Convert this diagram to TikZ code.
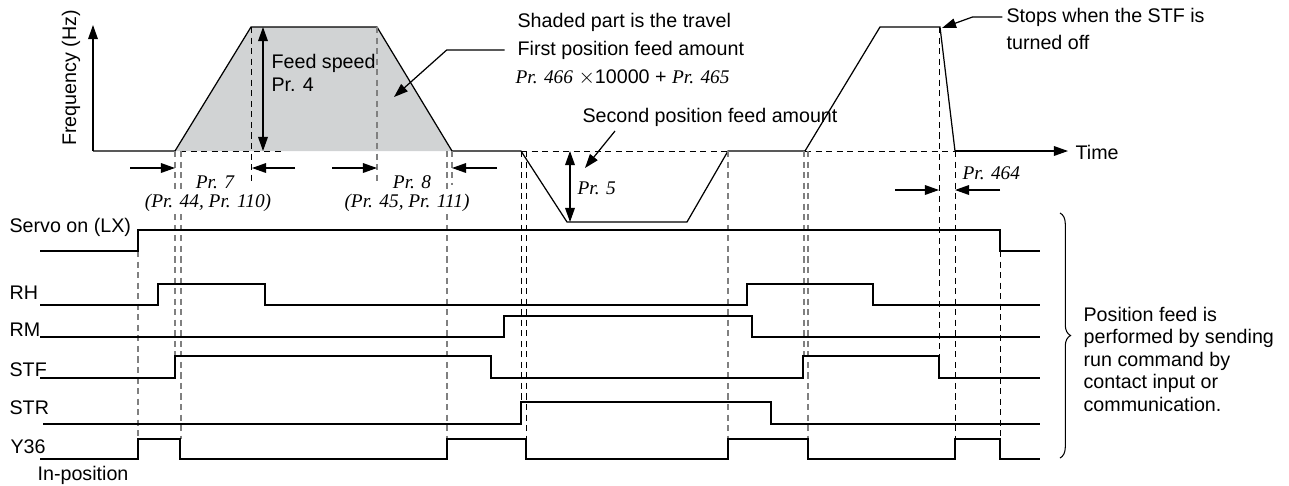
\documentclass[tikz,border=0pt]{standalone}
\usepackage{fontspec}
\setmainfont{Liberation Sans}
\newfontfamily\prserif{Liberation Serif}
\usetikzlibrary{arrows.meta,decorations.pathreplacing}
\definecolor{travelgray}{RGB}{209,211,212}
\newcommand{\pr}[1]{{\fontsize{11}{12}\prserif\itshape #1}}

\begin{document}
\begin{tikzpicture}[x=0.02cm, y=-0.02cm, line width=0.7pt,
    >={Triangle[length=8pt,width=5.5pt]},
    lbl/.style={font=\fontsize{11.2}{12.8}\selectfont, inner sep=0pt},
    prlbl/.style={font=\fontsize{11}{12}\prserif\itshape, inner sep=0pt},
    guide/.style={black!50, line width=0.6pt, dash pattern=on 3.5pt off 2.5pt},
    guidek/.style={black, line width=0.55pt, dash pattern=on 3.5pt off 2.5pt},
    wave/.style={black, line width=0.7pt}]
    \useasboundingbox (0,0) rectangle (1289,485);

    % --- 1. Frequency profile (shaded travel) ---
    \fill[travelgray] (175,151) -- (251,27) -- (377,27) -- (452,151) -- cycle;
    \coordinate (orig) at (93,151);
    \draw[->] (orig) -- (93,25);
    \node[lbl, rotate=90] (freq) at (71,78) {Frequency (Hz)};
    \draw (orig) -- (175,151) -- (251,27) -- (377,27) -- (452,151) -- (521,151)
        -- (567,222) -- (687,222) -- (728,151) -- (805,151)
        -- (880,27) -- (940,27) -- (955,151);
    \draw[->] (955,151) -- (1068,151);
    \node[lbl, anchor=west] (time) at (1075,152) {Time};
    % zero line where the frequency leaves it
    \draw[guidek] (180,151) -- (283,151);
    \draw[guidek] (521,151) -- (728,151);
    \draw[guidek] (805,151) -- (955,151);

    % Feed speed
    \draw[<->] (263,27) -- (263,151);
    \node[lbl, anchor=west] (feed) at (271,63) {Feed speed};
    \node[lbl, anchor=west] (feedpr) at (271,85) {Pr. 4};

    % Second position feed amount
    \draw[<->] (570,151) -- (570,222);
    \node[prlbl, anchor=west] (pr5) at (577,188) {Pr. 5};

    % --- 2. Timing guides ---
    \foreach \x/\ya/\yb in {138/251/439, 175/151/378, 181/151/439, 377/27/185,
                             447/151/439, 452/151/185, 728/151/439, 804/151/356, 808/151/439}
        \draw[guide] (\x,\ya) -- (\x,\yb);
    \foreach \x/\ya/\yb in {251/27/185, 521/151/402, 526/151/439,
                             939/27/356, 955/151/439, 1000/251/439}
        \draw[guidek] (\x,\ya) -- (\x,\yb);

    % span arrows
    \foreach \xa/\xb/\y in {175/130/168, 252/295/168, 377/332/168, 452/497/168,
                            939/895/190, 955/1000/190}
        \draw[->] (\xb,\y) -- (\xa,\y);
    \node[prlbl] (pr7) at (215,182) {Pr. 7};
    \node[prlbl, fill=white, inner sep=1pt] (pr7b) at (208,203) {(Pr. 44, Pr. 110)};
    \node[prlbl] (pr8) at (412,182) {Pr. 8};
    \node[prlbl, fill=white, inner sep=1pt] (pr8b) at (407,203) {(Pr. 45, Pr. 111)};
    \node[prlbl, anchor=west] (pr464) at (962,173) {Pr. 464};

    % --- 3. Signals ---
    \draw[wave] (40,251) -| (138,230) -| (1000,251) -- (1040,251);
    \draw[line width=1.4pt] (747,230) -- (873,230);
    \draw[wave] (40,305) -| (158,284) -| (265,305) -| (747,284) -| (873,305) -- (1040,305);
    \draw[wave] (40,337) -| (504,316) -| (752,337) -- (1040,337);
    \draw[wave] (40,378) -| (175,356) -| (491,378) -| (803,356) -| (939,378) -- (1040,378);
    \draw[wave] (43,424) -| (521,402) -| (771,424) -- (1040,424);
    \draw[wave] (40,459) -| (138,439) -| (180,459) -| (447,439) -| (526,459)
        -| (728,439) -| (808,459) -| (955,439) -| (1000,459) -- (1040,459);

    \node[lbl, anchor=west] (svo) at (9,227) {Servo on (LX)};
    \node[lbl, anchor=west] (rh) at (9,293) {RH};
    \node[lbl, anchor=west] (rm) at (9,330) {RM};
    \node[lbl, anchor=west] (stf) at (9,370) {STF};
    \node[lbl, anchor=west] (str) at (9,408) {STR};
    \node[lbl, anchor=west] (y36) at (10,447) {Y36};
    \node[lbl, anchor=west] (inpos) at (37,475) {In-position};

    % --- 4. Notes ---
    \node[lbl, anchor=west] (shade) at (517,22) {Shaded part is the travel};
    \node[lbl, anchor=west] (first) at (517,50) {First position feed amount};
    \node[lbl, anchor=west] (firstpr) at (515,77)
        {\pr{Pr. 466} {\fontsize{13}{13}\selectfont$\times$}10000 + \pr{Pr. 465}};
    \coordinate (firsttip) at (394,97);
    \draw[->] ([xshift=-7pt]first.west) -- ++(-58,0) -- (firsttip);

    \node[lbl] (second) at (710,117) {Second position feed amount};
    \coordinate (secondfoot) at (615,131);
    \coordinate (secondtip) at (585,168);
    \draw[->] (secondfoot) -- (secondtip);

    \node[lbl, anchor=west] (stops) at (1006,17) {Stops when the STF is};
    \node[lbl, anchor=west] (stopsb) at (1006,42) {turned off};
    \coordinate (stoptip) at (942,28);
    \draw[->] ([xshift=-2pt]stops.west) -- ++(-30,0) -- (stoptip);

    \draw[decorate, decoration={brace, amplitude=6pt}, line width=0.6pt] (1060,213) -- (1060,458);
    \node[lbl, anchor=west, align=left] (note) at (1083,359)
        {Position feed is\\performed by sending\\run command by\\contact input or\\communication.};
\end{tikzpicture}
\end{document}
